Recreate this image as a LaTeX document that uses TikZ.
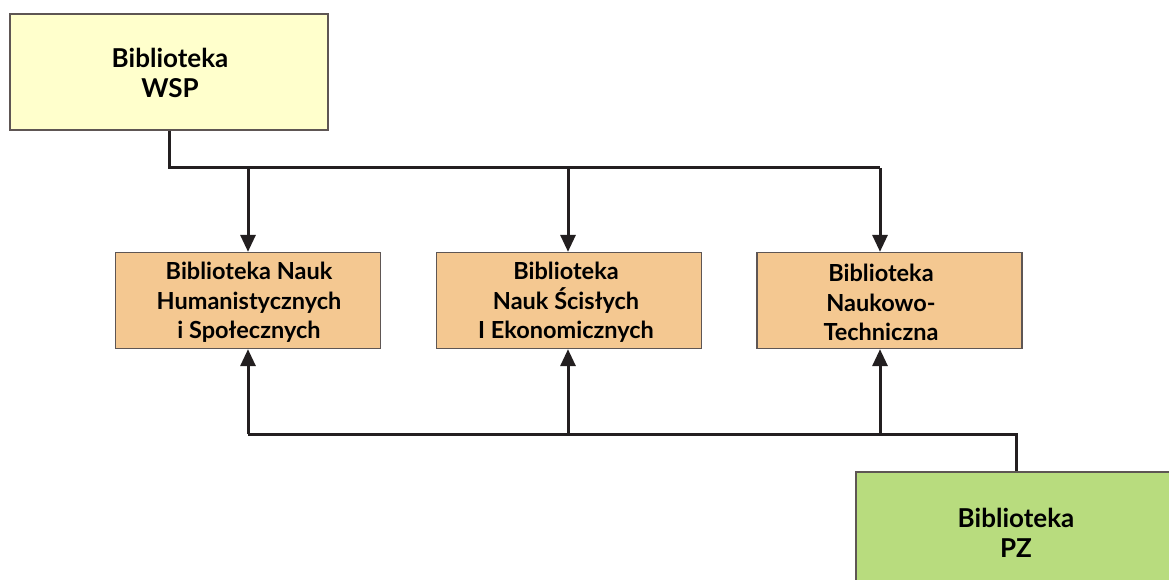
\documentclass[tikz,border=0pt]{standalone}
\usepackage{fontspec}
\setmainfont{Lato}
\usetikzlibrary{arrows.meta}
\definecolor{wspfill}{HTML}{FFFFCC}
\definecolor{midfill}{HTML}{F4C891}
\definecolor{pzfill}{HTML}{B8DC7E}
\definecolor{boxline}{HTML}{5E5654}
\definecolor{wirecol}{HTML}{231F20}
\begin{document}
\begin{tikzpicture}[x=1pt,y=-1pt,
  box/.style={draw=boxline,line width=1.3pt,rectangle,inner sep=0pt},
  wspbox/.style={box,fill=wspfill,minimum width=318pt,minimum height=116pt},
  midbox/.style={box,fill=midfill,minimum width=265pt,minimum height=96pt},
  pzbox/.style={box,fill=pzfill,minimum width=320pt,minimum height=120pt},
  lbl/.style={font=\bfseries\fontsize{23.5}{29.5}\selectfont,align=center,inner sep=0pt},
  biglbl/.style={font=\bfseries\fontsize{26}{30}\selectfont,align=center,inner sep=0pt},
  wire/.style={draw=wirecol,line width=3pt},
  arr/.style={wire,-{Triangle[length=17pt,width=15pt]}}]
\useasboundingbox (0,0) rectangle (1169,580);
\clip (0,0) rectangle (1169,580);

% boxes
\node[wspbox] (wsp) at (169,72) {};
\node[biglbl] (twsp) at (170,73) {Biblioteka\\WSP};

\node[midbox] (b1) at (248,300.5) {};
\node[lbl] (t1) at (249,302.5) {Biblioteka Nauk\\Humanistycznych\\i Społecznych};

\node[midbox] (b2) at (569,300.5) {};
\node[lbl] (t2) at (566,302.5) {Biblioteka\\Nauk Ścisłych\\I Ekonomicznych};

\node[midbox] (b3) at (889.5,300.5) {};
\node[lbl] (t3) at (881,302.5) {Biblioteka\\Naukowo-\\Techniczna};

\node[pzbox] (pz) at (1016,532) {};
\node[biglbl] (tpz) at (1016,533) {Biblioteka\\PZ};

% distribution bus from the top library
\coordinate (topbus) at (880,168);
\coordinate (a1) at (248,168);
\coordinate (a2) at (568,168);
\draw[wire] (wsp.south) |- (topbus);
\draw[arr] (a1) -- (a1 |- b1.north);
\draw[arr] (a2) -- (a2 |- b2.north);
\draw[arr] (topbus) -- (topbus |- b3.north);

% collection bus from the bottom library
\coordinate (botbus) at (248,434);
\coordinate (c2) at (568,434);
\coordinate (c3) at (880,434);
\draw[wire] (pz.north) |- (botbus);
\draw[arr] (botbus) -- (botbus |- b1.south);
\draw[arr] (c2) -- (c2 |- b2.south);
\draw[arr] (c3) -- (c3 |- b3.south);
\end{tikzpicture}
\end{document}
